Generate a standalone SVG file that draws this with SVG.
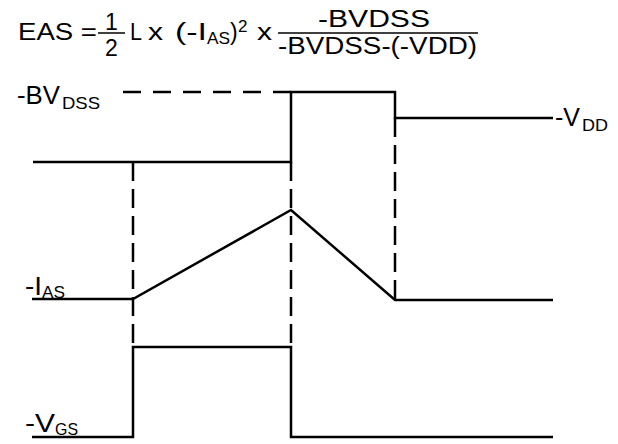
<svg xmlns="http://www.w3.org/2000/svg" width="618" height="444" viewBox="0 0 618 444">
<style>
text{font-family:"Liberation Sans",Arial,sans-serif;fill:#000}
.f{font-size:23px}
.l{font-size:25px}
.s{font-size:17px}
.w{fill:none;stroke:#000;stroke-width:2.5;stroke-linejoin:miter}
.dh{fill:none;stroke:#000;stroke-width:2.5;stroke-dasharray:18 12}
.dv{fill:none;stroke:#000;stroke-width:2.5;stroke-dasharray:19 8}
</style>
<rect width="618" height="444" fill="#fff"/>
<g id="formula">
<text class="f" x="18" y="40" textLength="79" lengthAdjust="spacingAndGlyphs">EAS =</text>
<line x1="98" y1="33" x2="125" y2="33" stroke="#000" stroke-width="1.5"/>
<text class="f" x="111.5" y="30" text-anchor="middle">1</text>
<text class="f" x="111.5" y="56" text-anchor="middle">2</text>
<text class="f" x="130" y="40" textLength="12" lengthAdjust="spacingAndGlyphs">L</text>
<text class="f" x="148" y="40" textLength="15" lengthAdjust="spacingAndGlyphs">x</text>
<text class="f" x="175" y="40" textLength="32" lengthAdjust="spacingAndGlyphs">(-I</text>
<text class="s" x="207" y="44" textLength="23" lengthAdjust="spacingAndGlyphs">AS</text>
<text class="f" x="230" y="40">)</text>
<text class="s" x="238" y="32">2</text>
<text class="f" x="257" y="40" textLength="15" lengthAdjust="spacingAndGlyphs">x</text>
<line x1="278" y1="33" x2="478" y2="33" stroke="#000" stroke-width="1.5"/>
<text class="f" x="318" y="27" textLength="112" lengthAdjust="spacingAndGlyphs">-BVDSS</text>
<text class="f" x="278" y="54" textLength="199" lengthAdjust="spacingAndGlyphs">-BVDSS-(-VDD)</text>
</g>
<g id="labels">
<text class="l" x="17" y="104" textLength="43" lengthAdjust="spacingAndGlyphs">-BV</text>
<text class="s" x="62" y="109" textLength="38" lengthAdjust="spacingAndGlyphs">DSS</text>
<text class="l" x="555" y="126" textLength="25" lengthAdjust="spacingAndGlyphs">-V</text>
<text class="s" x="582" y="131" textLength="26" lengthAdjust="spacingAndGlyphs">DD</text>
<text class="l" x="25" y="295" textLength="17" lengthAdjust="spacingAndGlyphs">-I</text>
<text class="s" x="42" y="298" textLength="23" lengthAdjust="spacingAndGlyphs">AS</text>
<text class="l" x="25" y="432" textLength="30" lengthAdjust="spacingAndGlyphs">-V</text>
<text class="s" x="55" y="435" textLength="23" lengthAdjust="spacingAndGlyphs">GS</text>
</g>
<g id="connectors">
<line class="dh" x1="123" y1="92" x2="291" y2="92"/>
<line class="dv" x1="133" y1="162" x2="133" y2="347"/>
<line class="dv" x1="291" y1="162" x2="291" y2="347"/>
<line class="dv" x1="395" y1="118" x2="395" y2="300"/>
</g>
<g id="waveforms">
<path id="vds" class="w" d="M33 162 H291 V92 H395 V118 H553"/>
<path id="ias" class="w" d="M32 299 H133 L291 210 L395 300 H553"/>
<path id="vgs" class="w" d="M32 437 H133 V347 H291 V437 H553"/>
</g>
</svg>
